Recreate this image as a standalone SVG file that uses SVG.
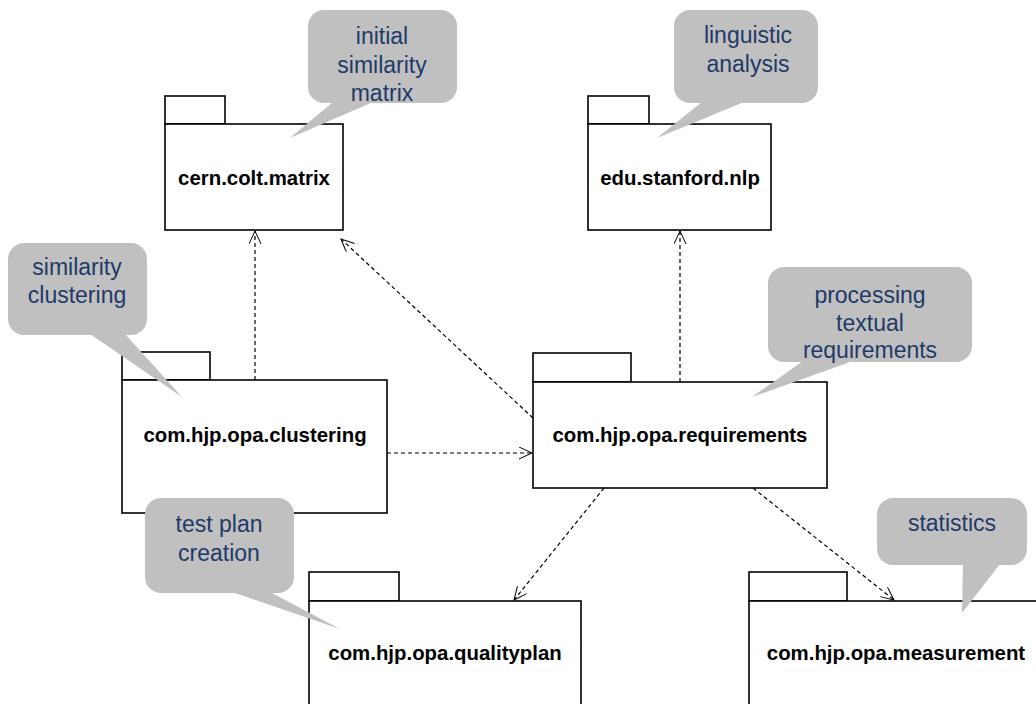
<svg xmlns="http://www.w3.org/2000/svg" width="1036" height="704" viewBox="0 0 1036 704">
<style>
.pkg rect{fill:#fff;stroke:#000;stroke-width:1.6}
.pkg text{font-family:"Liberation Sans",Arial,sans-serif;font-weight:bold;font-size:20.4px;fill:#000;text-anchor:middle}
.note rect,.note polygon{fill:#c0c0c0;stroke:none}
.note text{font-family:"Liberation Sans",Arial,sans-serif;font-size:23px;fill:#1f3a68;text-anchor:middle}
.conn line{stroke:#000;stroke-width:1.2;stroke-dasharray:4,3;fill:none;marker-end:url(#arr)}
</style>
<defs>
<marker id="arr" markerUnits="userSpaceOnUse" markerWidth="16" markerHeight="14" refX="13" refY="6" orient="auto">
<path d="M0,0 L13,6 L0,12" fill="none" stroke="#000" stroke-width="1"/>
</marker>
</defs>
<rect width="1036" height="704" fill="#fff"/>
<g id="pkg-cern" class="pkg">
<rect x="165" y="96" width="60" height="28"/>
<rect x="165" y="124" width="178" height="106"/>
<text x="254" y="185">cern.colt.matrix</text>
</g>
<g id="pkg-nlp" class="pkg">
<rect x="588" y="96" width="61" height="28"/>
<rect x="588" y="124" width="183" height="106"/>
<text x="680" y="185">edu.stanford.nlp</text>
</g>
<g id="pkg-clustering" class="pkg">
<rect x="122" y="352" width="88" height="28"/>
<rect x="122" y="380" width="265" height="133"/>
<text x="255" y="442">com.hjp.opa.clustering</text>
</g>
<g id="pkg-requirements" class="pkg">
<rect x="533" y="353" width="98" height="29"/>
<rect x="533" y="382" width="294" height="106"/>
<text x="680" y="442">com.hjp.opa.requirements</text>
</g>
<g id="pkg-qualityplan" class="pkg">
<rect x="309" y="572" width="90" height="29"/>
<rect x="309" y="601" width="272" height="120"/>
<text x="445" y="660">com.hjp.opa.qualityplan</text>
</g>
<g id="pkg-measurement" class="pkg">
<rect x="749" y="572" width="98" height="29"/>
<rect x="749" y="601" width="300" height="120"/>
<text x="896" y="660">com.hjp.opa.measurement</text>
</g>
<g id="connectors" class="conn">
<line x1="255" y1="380" x2="255" y2="231"/>
<line x1="533" y1="418" x2="341" y2="239"/>
<line x1="680" y1="382" x2="680" y2="231"/>
<line x1="387" y1="453" x2="532" y2="453"/>
<line x1="604" y1="488" x2="514" y2="600"/>
<line x1="753" y1="488" x2="894" y2="600"/>
</g>
<g id="note-initial" class="note">
<rect x="308" y="10" width="149" height="93" rx="16"/>
<polygon points="333,102 373,102 290,138"/>
<text x="382" y="44">initial</text>
<text x="382" y="73">similarity</text>
<text x="382" y="101">matrix</text>
</g>
<g id="note-linguistic" class="note">
<rect x="674" y="10" width="144" height="93" rx="16"/>
<polygon points="702,102 744,102 657,138"/>
<text x="748" y="43">linguistic</text>
<text x="748" y="72">analysis</text>
</g>
<g id="note-similarity" class="note">
<rect x="8" y="243" width="139" height="92" rx="16"/>
<polygon points="90,334 125,334 182,397"/>
<text x="77" y="275">similarity</text>
<text x="77" y="303">clustering</text>
</g>
<g id="note-processing" class="note">
<rect x="768" y="267" width="204" height="95" rx="16"/>
<polygon points="803,361 853,361 752,397"/>
<text x="870" y="303">processing</text>
<text x="870" y="331">textual</text>
<text x="870" y="358">requirements</text>
</g>
<g id="note-testplan" class="note">
<rect x="145" y="498" width="149" height="95" rx="16"/>
<polygon points="232,592 270,592 340,629"/>
<text x="219" y="532">test plan</text>
<text x="219" y="561">creation</text>
</g>
<g id="note-statistics" class="note">
<rect x="877" y="498" width="150" height="67" rx="16"/>
<polygon points="963,564 1000,564 962,613"/>
<text x="952" y="531">statistics</text>
</g>
</svg>
